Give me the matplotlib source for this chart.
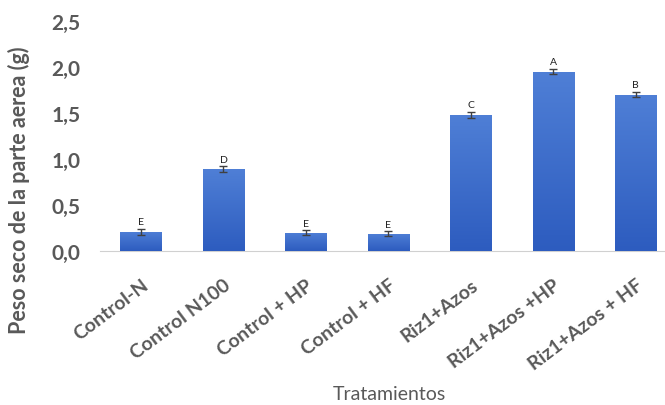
import numpy as np
import matplotlib
matplotlib.use("Agg")
import matplotlib.pyplot as plt
from matplotlib.colors import LinearSegmentedColormap

tratamientos = ["Control-N", "Control N100", "Control + HP", "Control + HF",
                "Riz1+Azos", "Riz1+Azos +HP", "Riz1+Azos + HF"]
peso = [0.21, 0.89, 0.20, 0.19, 1.48, 1.95, 1.70]
error = [0.03, 0.03, 0.025, 0.025, 0.035, 0.03, 0.03]
letras = ["E", "D", "E", "E", "C", "A", "B"]

plt.rcParams["font.family"] = ["Lato", "DejaVu Sans"]
gris = "#595959"

fig = plt.figure(figsize=(6.65, 4.06), dpi=100)
ax = fig.add_axes([0.150, 0.379, 0.868, 0.567])

x = np.arange(len(tratamientos))
bars = ax.bar(x, peso, width=0.5, color="#3a68c8", zorder=2)

# degradado vertical dentro de cada barra
cmap = LinearSegmentedColormap.from_list("azul", ["#2d5cbf", "#4f7fd6"])
grad = np.linspace(0, 1, 256).reshape(-1, 1)
for b in bars:
    x0, w, h = b.get_x(), b.get_width(), b.get_height()
    im = ax.imshow(grad, cmap=cmap, origin="lower", aspect="auto",
                   extent=[x0, x0 + w, 0, h], zorder=3)
    im.set_clip_path(b)

ax.errorbar(x, peso, yerr=error, fmt="none", ecolor="#404040",
            elinewidth=1, capsize=3, capthick=1, zorder=4)
for xi, v, e, l in zip(x, peso, error, letras):
    ax.text(xi, v + e + 0.03, l, ha="center", va="bottom", fontsize=7.5,
            color="#202020")

ax.set_xlim(-0.5, 6.5)
ax.set_ylim(0, 2.5)
ax.set_yticks(np.arange(0, 2.51, 0.5))
ax.set_yticklabels([f"{t:.1f}".replace(".", ",") for t in np.arange(0, 2.51, 0.5)],
                   fontsize=15, fontweight="bold", color=gris)
ax.set_xticks(x)
ax.set_xticklabels(tratamientos, rotation=37, ha="right", rotation_mode="anchor",
                   fontsize=14, fontweight="bold", color=gris)
ax.tick_params(axis="both", length=0)
ax.tick_params(axis="x", pad=18)
ax.tick_params(axis="y", pad=14)

for s in ["top", "right", "left"]:
    ax.spines[s].set_visible(False)
ax.spines["bottom"].set_color("#d0d0d0")

ax.set_ylabel("Peso seco de la parte aerea (g)", fontsize=15.5,
              fontweight="bold", color=gris)
ax.yaxis.set_label_coords(-0.12, 0.27)
fig.text(0.585, 0.015, "Tratamientos", ha="center", fontsize=14, color=gris)

fig.savefig("out.png", dpi=100)
